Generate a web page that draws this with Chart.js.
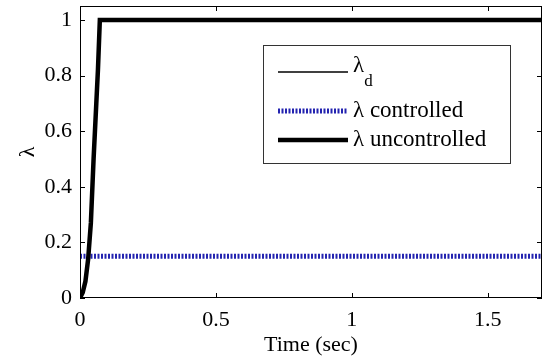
<!DOCTYPE html>
<html>
<head>
<meta charset="utf-8">
<script src="https://cdn.jsdelivr.net/npm/chart.js@4/dist/chart.umd.min.js"></script>
<style>
  html, body { margin: 0; padding: 0; background: #fff; }
  #wrap { width: 544px; height: 358px; }
</style>
</head>
<body>
<div id="wrap"><canvas id="lambdaChart" width="544" height="358"></canvas></div>
<script>
// values
const timeD = [0.073, 1.7];
const lambdaD = [1, 1];
const timeCtl = [0, 1.7];
const lambdaCtl = [0.15, 0.15];
const timeUnc = [0, 0.01, 0.02, 0.03, 0.04, 0.05, 0.06, 0.066, 0.073, 1.7];
const lambdaUnc = [0, 0.02, 0.06, 0.14, 0.27, 0.5, 0.7, 0.82, 1.0, 1.0];
const xTicks = [0, 0.5, 1, 1.5];
const yTicks = [0, 0.2, 0.4, 0.6, 0.8, 1];

const FONT = '"Liberation Serif", "Times New Roman", serif';

const toPoints = (xs, ys) => xs.map((x, i) => ({ x: x, y: ys[i] }));

// box round the axes with inward ticks on all four sides (matlab style)
const framePlugin = {
  id: 'frame',
  afterDatasetsDraw(chart) {
    const { ctx, chartArea: a, scales } = chart;
    ctx.save();
    ctx.strokeStyle = '#000';
    ctx.lineWidth = 1;
    ctx.strokeRect(a.left + 0.5, a.top + 0.5, a.right - a.left - 1, a.bottom - a.top - 1);
    const len = 5;
    ctx.beginPath();
    xTicks.forEach(v => {
      const px = Math.round(scales.x.getPixelForValue(v)) + 0.5;
      ctx.moveTo(px, a.bottom); ctx.lineTo(px, a.bottom - len);
      ctx.moveTo(px, a.top); ctx.lineTo(px, a.top + len);
    });
    yTicks.forEach(v => {
      const py = Math.round(scales.y.getPixelForValue(v)) + 0.5;
      ctx.moveTo(a.left, py); ctx.lineTo(a.left + len, py);
      ctx.moveTo(a.right, py); ctx.lineTo(a.right - len, py);
    });
    ctx.stroke();
    ctx.restore();
  }
};

// legend box inside the plot, with subscript for lambda_d
const legendBox = {
  id: 'legendBox',
  afterDraw(chart) {
    const { ctx, chartArea: a } = chart;
    const left = a.left + 183, top = a.top + 39, w = 247, h = 118;
    const rows = [27, 66, 95];
    ctx.save();
    ctx.fillStyle = '#fff';
    ctx.fillRect(left, top, w, h);
    ctx.strokeStyle = '#333';
    ctx.lineWidth = 1;
    ctx.strokeRect(left + 0.5, top + 0.5, w, h);
    chart.data.datasets.forEach((ds, i) => {
      const y = top + rows[i];
      ctx.beginPath();
      ctx.strokeStyle = ds.borderColor;
      ctx.lineWidth = ds.borderWidth;
      ctx.setLineDash(ds.borderDash || []);
      ctx.moveTo(left + 15, y);
      ctx.lineTo(left + 85, y);
      ctx.stroke();
      ctx.setLineDash([]);
      ctx.fillStyle = '#000';
      ctx.textBaseline = 'middle';
      ctx.font = '23px ' + FONT;
      if (ds.sub) {
        ctx.fillText(ds.label, left + 90, y - 6);
        const lw = ctx.measureText(ds.label).width;
        ctx.font = '17px ' + FONT;
        ctx.fillText(ds.sub, left + 90 + lw, y + 10);
      } else {
        ctx.fillText(ds.label, left + 90, y);
      }
    });
    ctx.restore();
  }
};

const ctx = document.getElementById('lambdaChart').getContext('2d');
new Chart(ctx, {
  type: 'line',
  data: {
    datasets: [
      { label: 'λ', sub: 'd', data: toPoints(timeD, lambdaD), borderColor: '#000', borderWidth: 1.5, order: 2 },
      { label: 'λ controlled', data: toPoints(timeCtl, lambdaCtl), borderColor: '#2323b0', borderWidth: 5, borderDash: [2, 1.5], order: 1 },
      { label: 'λ uncontrolled', data: toPoints(timeUnc, lambdaUnc), borderColor: '#000', borderWidth: 4.5, order: 0 }
    ]
  },
  options: {
    responsive: false,
    animation: false,
    layout: { padding: { top: 6, right: 2, left: 0, bottom: 0 } },
    elements: { point: { radius: 0 }, line: { tension: 0, borderCapStyle: 'butt' } },
    plugins: { legend: { display: false }, tooltip: { enabled: false } },
    scales: {
      x: {
        type: 'linear', min: 0, max: 1.7,
        grid: { display: false, drawTicks: false },
        border: { display: false },
        afterBuildTicks: s => { s.ticks = xTicks.map(v => ({ value: v })); },
        afterFit: s => { s.height = 60; s.paddingLeft = 0; s.paddingRight = 0; },
        ticks: { color: '#000', padding: 9, maxRotation: 0, font: { family: FONT, size: 22 }, callback: v => String(v) },
        title: { display: true, text: 'Time (sec)', color: '#000', padding: 0, font: { family: FONT, size: 22 } }
      },
      y: {
        type: 'linear', min: 0, max: 1.05,
        grid: { display: false, drawTicks: false },
        border: { display: false },
        afterBuildTicks: s => { s.ticks = yTicks.map(v => ({ value: v })); },
        afterFit: s => { s.width = 80; s.paddingTop = 0; s.paddingBottom = 0; },
        ticks: { color: '#000', padding: 8, font: { family: FONT, size: 22 }, callback: v => String(v) },
        title: { display: true, text: 'λ', color: '#000', padding: 15, font: { family: FONT, size: 22 } }
      }
    }
  },
  plugins: [framePlugin, legendBox]
});
</script>
</body>
</html>
